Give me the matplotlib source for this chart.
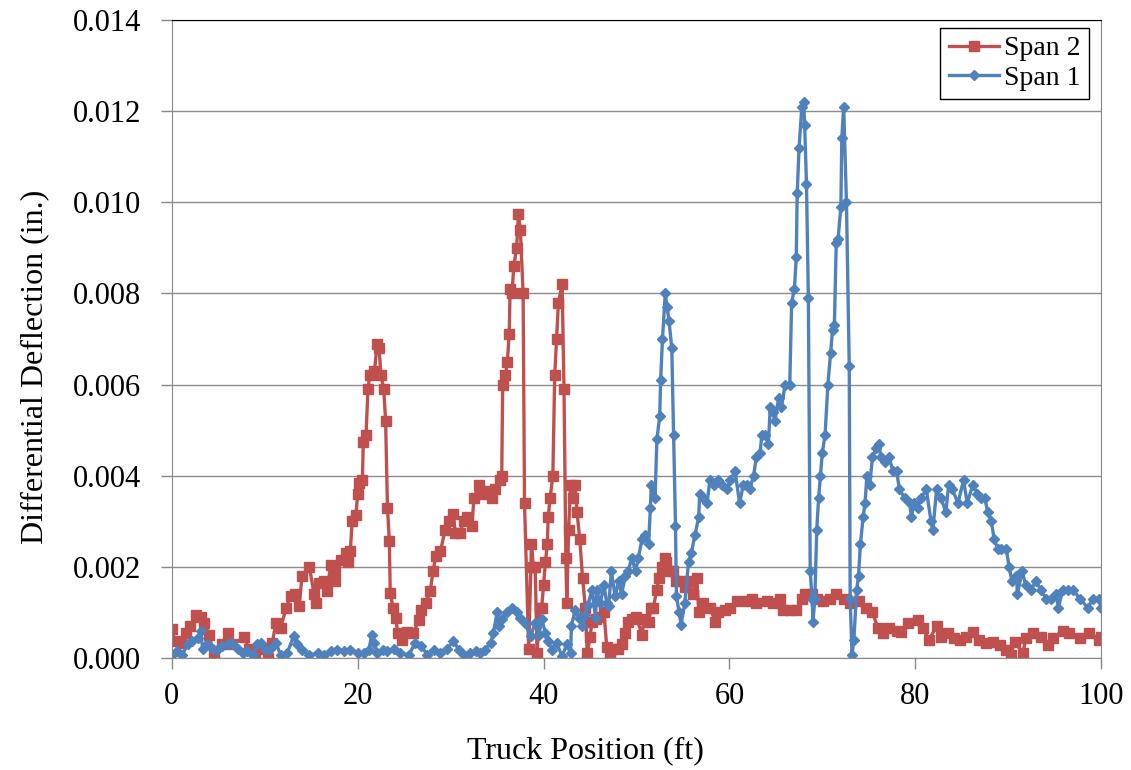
import matplotlib.pyplot as plt

# ---------------------------------------------------------
# Data
# ---------------------------------------------------------
span2_x = [0, 0.3, 1.0, 1.5, 2.0, 2.6, 3.1, 3.5, 4.0, 4.5, 5.4, 6.0, 6.5, 7.8, 8.3, 8.9, 9.6,
           10.3, 10.8, 11.2, 11.7, 12.3, 12.8, 13.2, 13.7, 14.0, 14.8, 15.3, 15.5, 15.8, 16.4,
           16.7, 17.1, 17.5, 17.6, 18.2, 18.7, 18.9, 19.2, 19.4, 19.8, 20.0, 20.1, 20.5, 20.6,
           20.9, 21.1, 21.3, 21.8, 22.1, 22.3, 22.5, 22.8, 23.0, 23.2, 23.4, 23.5, 23.8, 24.1,
           24.3, 24.8, 25.3, 26.0, 26.6, 26.8, 27.3, 27.8, 28.1, 28.4, 28.9, 29.4, 29.8, 30.3,
           30.5, 31.0, 31.4, 31.8, 32.3, 32.5, 33.0, 33.4, 33.9, 34.4, 34.8, 35.3, 35.5, 35.6,
           35.9, 36.1, 36.3, 36.4, 36.6, 36.8, 37.1, 37.3, 37.5, 37.8, 37.95, 38.4, 38.7, 38.9,
           39.1, 39.3, 39.6, 39.8, 40.0, 40.2, 40.4, 40.5, 40.7, 41.0, 41.2, 41.4, 41.6, 42.0,
           42.2, 42.4, 42.5, 42.7, 42.9, 43.2, 43.4, 43.6, 43.9, 44.2, 44.5, 44.7, 45.0, 45.2,
           45.6, 46.1, 46.5, 46.8, 47.2, 47.5, 48.0, 48.4, 48.8, 49.1, 49.5, 50.0, 50.6, 50.8,
           51.3, 51.6, 51.8, 52.2, 52.4, 52.7, 53.1, 53.2, 53.6, 53.9, 54.3, 54.7, 55.2, 55.6,
           56.1, 56.5, 56.7, 57.2, 57.9, 58.5, 58.8, 59.5, 60.1, 60.8, 61.9, 62.4, 62.9, 64.0,
           64.7, 65.4, 65.8, 66.5, 67.2, 67.8, 68.1, 68.9, 69.4, 70.1, 70.8, 71.5, 72.3, 73.0,
           73.9, 74.7, 75.4, 76.0, 76.5, 77.2, 78.0, 78.5, 79.2, 80.3, 80.8, 81.5, 82.3, 82.8,
           83.5, 84.2, 84.8, 85.5, 86.2, 86.9, 87.6, 88.4, 89.1, 89.8, 90.3, 90.7, 91.6, 91.9,
           92.7, 93.5, 94.3, 94.8, 95.9, 96.6, 97.7, 98.7, 99.8, 100.0]
span2_y = [0.00064, 0.00037, 0.00033, 0.00055, 0.0007, 0.00095, 0.0009, 0.00077, 0.0005, 0.0001,
           0.0003, 0.00055, 0.0003, 0.00045, 0.0002, 0.00005, 0.0002, 0.0, 0.00033, 0.00077,
           0.00066, 0.0011, 0.00135, 0.0014, 0.00113, 0.0018, 0.002, 0.0014, 0.0012, 0.00165,
           0.0017, 0.00146, 0.00205, 0.0017, 0.0019, 0.00216, 0.0023, 0.0021, 0.00234, 0.003,
           0.00314, 0.0036, 0.00384, 0.0039, 0.00475, 0.0049, 0.0059, 0.0062, 0.0063, 0.0069,
           0.0068, 0.0062, 0.0059, 0.0052, 0.0033, 0.00256, 0.00143, 0.0011, 0.00088, 0.00055,
           0.0004, 0.00058, 0.00055, 0.00084, 0.00106, 0.0012, 0.00146, 0.0019, 0.00223, 0.00234,
           0.0028, 0.003, 0.00315, 0.00274, 0.00274, 0.003, 0.0031, 0.0029, 0.0035, 0.0038,
           0.0036, 0.00366, 0.0035, 0.0037, 0.0039, 0.004, 0.006, 0.0062, 0.0065, 0.0071,
           0.0081, 0.008, 0.0086, 0.009, 0.00975, 0.0094, 0.008, 0.0034, 0.0002, 0.0025,
           0.002, 0.002, 0.0001, 0.0011, 0.0011, 0.0016, 0.0021, 0.0025, 0.0031, 0.0035,
           0.004, 0.0062, 0.007, 0.0078, 0.0082, 0.0059, 0.0022, 0.0012, 0.0028, 0.0038,
           0.0035, 0.0038, 0.0032, 0.0026, 0.00175, 0.0011, 0.0001, 0.00045, 0.0008, 0.00085,
           0.0009, 0.001, 0.00025, 0.00005, 0.0002, 0.0002, 0.0003, 0.00055, 0.0008, 0.00085,
           0.0009, 0.0005, 0.00085, 0.0008, 0.0011, 0.0011, 0.0015, 0.00175, 0.002, 0.0022,
           0.0021, 0.0019, 0.0019, 0.0017, 0.0017, 0.00155, 0.0017, 0.0014, 0.00175, 0.001,
           0.0012, 0.0011, 0.0008, 0.001, 0.00105, 0.0011, 0.00126, 0.00126, 0.0013, 0.0012,
           0.00126, 0.0012, 0.0013, 0.00105, 0.00105, 0.00105, 0.0013, 0.0014, 0.0014, 0.0013,
           0.00126, 0.0013, 0.0014, 0.0013, 0.0012, 0.00126, 0.0011, 0.001, 0.00065, 0.00054,
           0.00065, 0.0006, 0.00058, 0.00076, 0.00083, 0.00065, 0.0004, 0.0007, 0.00047, 0.00054,
           0.00043, 0.0004, 0.00047, 0.00058, 0.0004, 0.00032, 0.00036, 0.00029, 0.00018, 0.00007,
           0.00036, 0.0001, 0.00043, 0.00054, 0.00047, 0.00029, 0.00043, 0.0006, 0.00054, 0.00043,
           0.00054, 0.0004, 0.00045]

span1_x = [0.0, 0.6, 1.1, 1.7, 2.2, 2.8, 3.1, 3.3, 3.8, 4.4, 4.9, 5.4, 6.0, 6.5, 7.1, 7.6, 8.1,
           8.7, 9.2, 9.6, 10.1, 10.6, 11.2, 11.7, 12.4, 13.1, 13.5, 14.0, 14.8, 15.7, 16.4, 17.1,
           17.8, 18.5, 19.2, 20.0, 20.7, 21.2, 21.5, 21.8, 22.1, 22.7, 23.2, 23.9, 24.6, 25.5,
           26.2, 26.8, 27.5, 28.2, 28.9, 29.6, 30.3, 30.9, 31.4, 32.1, 32.7, 33.2, 33.7, 34.3,
           34.6, 35.0, 35.2, 35.5, 36.1, 36.6, 37.1, 37.5, 38.0, 38.6, 39.1, 39.5, 39.8, 40.2,
           40.5, 40.9, 41.4, 42.0, 42.5, 42.9, 43.0, 43.4, 43.8, 44.1, 44.5, 44.8, 45.2, 45.6,
           45.7, 46.1, 46.5, 46.8, 47.0, 47.3, 47.7, 48.1, 48.4, 48.8, 49.1, 49.5, 49.9, 50.2,
           50.6, 50.9, 51.3, 51.5, 51.6, 52.0, 52.2, 52.5, 52.6, 52.8, 53.1, 53.3, 53.5, 53.8,
           54.0, 54.2, 54.3, 54.6, 54.8, 55.2, 55.6, 55.9, 56.3, 56.7, 56.8, 57.2, 57.6, 57.9,
           58.3, 58.8, 59.2, 59.7, 60.1, 60.6, 61.1, 61.5, 61.9, 62.2, 62.6, 62.9, 63.3, 63.5,
           63.8, 64.2, 64.4, 64.7, 64.9, 65.3, 65.6, 66.0, 66.5, 66.7, 67.0, 67.2, 67.3, 67.5,
           67.8, 68.0, 68.1, 68.3, 68.5, 68.7, 68.9, 69.0, 69.2, 69.4, 69.6, 69.8, 70.0, 70.3,
           70.6, 70.9, 71.1, 71.3, 71.5, 71.7, 72.0, 72.1, 72.3, 72.6, 72.9, 73.0, 73.2, 73.4,
           73.7, 73.9, 74.1, 74.4, 74.6, 74.8, 75.1, 75.4, 75.8, 76.1, 76.3, 76.7, 77.2, 77.6,
           78.0, 78.3, 78.9, 79.4, 79.6, 79.9, 80.3, 80.6, 81.2, 81.7, 81.9, 82.3, 82.8, 83.3,
           83.6, 84.0, 84.6, 85.2, 85.6, 86.2, 86.7, 87.1, 87.5, 87.8, 88.2, 88.5, 88.9, 89.2,
           89.8, 90.1, 90.4, 90.9, 91.0, 91.5, 91.9, 92.5, 93.0, 93.5, 94.1, 94.6, 95.2, 95.4,
           95.9, 96.4, 97.0, 97.7, 98.6, 99.1, 99.8, 100.0]
span1_y = [0.00007, 0.00015, 0.00007, 0.0003, 0.00037, 0.00044, 0.0006, 0.0002, 0.0003, 0.0002,
           0.00018, 0.00026, 0.0003, 0.00033, 0.0002, 0.0001, 0.00015, 0.00007, 0.0003, 0.00033,
           0.00018, 0.0002, 0.00033, 0.00007, 0.0001, 0.00048, 0.0003, 0.00018, 0.00007, 0.0001,
           0.00007, 0.00015, 0.00018, 0.00015, 0.00018, 0.0001, 0.0001, 0.00018, 0.0005, 0.00033,
           0.0001, 0.00018, 0.00015, 0.0002, 0.0001, 0.00007, 0.00033, 0.00026, 0.00007, 0.00018,
           0.0001, 0.0002, 0.00037, 0.00018, 0.00007, 0.0001, 0.00015, 0.0001, 0.00018, 0.00033,
           0.00055, 0.001, 0.0007, 0.00085, 0.001, 0.0011, 0.001, 0.00088, 0.00077, 0.00048,
           0.00077, 0.0005, 0.00085, 0.00055, 0.00037, 0.00018, 0.00033, 0.00004, 0.0003, 0.0001,
           0.0007, 0.00106, 0.00088, 0.0007, 0.00095, 0.00117, 0.0015, 0.00088, 0.0015, 0.0012,
           0.0016, 0.0012, 0.00113, 0.0019, 0.00135, 0.0017, 0.0014, 0.0018, 0.0019, 0.0022,
           0.0019, 0.0022, 0.0026, 0.0027, 0.0025, 0.0033, 0.0038, 0.0035, 0.0048, 0.0053,
           0.0061, 0.007, 0.008, 0.0077, 0.0074, 0.0068, 0.0049, 0.0029, 0.00135, 0.001,
           0.00073, 0.0012, 0.0021, 0.0023, 0.0027, 0.0031, 0.0036, 0.0035, 0.0034, 0.0039,
           0.0038, 0.0039, 0.0038, 0.0037, 0.0039, 0.0041, 0.0034, 0.0038, 0.0038, 0.0037,
           0.004, 0.0044, 0.0045, 0.0049, 0.0049, 0.0047, 0.0055, 0.0054, 0.0052, 0.0057,
           0.0055, 0.006, 0.006, 0.0078, 0.0081, 0.0088, 0.0102, 0.0112, 0.0121, 0.0122,
           0.0117, 0.0104, 0.0079, 0.0019, 0.0013, 0.0008, 0.0013, 0.0028, 0.0035, 0.004,
           0.0045, 0.0049, 0.006, 0.0067, 0.0072, 0.0073, 0.0091, 0.0092, 0.0099, 0.0114,
           0.0121, 0.0100, 0.0064, 0.0013, 0.00007, 0.0004, 0.0015, 0.0018, 0.0025, 0.0031,
           0.0034, 0.004, 0.0038, 0.0044, 0.0046, 0.0047, 0.0044, 0.0043, 0.0044, 0.0041,
           0.0041, 0.0037, 0.0035, 0.0034, 0.0031, 0.0034, 0.0033, 0.0035, 0.0037, 0.003,
           0.0028, 0.0037, 0.0035, 0.0032, 0.0038, 0.0037, 0.0034, 0.0039, 0.0034, 0.0038,
           0.0036, 0.0035, 0.0035, 0.0032, 0.003, 0.0026, 0.0024, 0.0024, 0.0024, 0.002,
           0.0017, 0.0018, 0.0014, 0.0019, 0.0016, 0.0015, 0.0017, 0.0015, 0.0013, 0.0013,
           0.0014, 0.0011, 0.0015, 0.0015, 0.0015, 0.0013, 0.0011, 0.0013, 0.0013, 0.0011]

x_ticks = [0, 20, 40, 60, 80, 100]
y_ticks = [0.000, 0.002, 0.004, 0.006, 0.008, 0.010, 0.012, 0.014]

plt.rcParams['font.family'] = ['Liberation Serif', 'DejaVu Serif']

fig = plt.figure(figsize=(11.31, 7.70), dpi=100)
ax = fig.add_axes([0.152, 0.1455, 0.8215, 0.8285])

red = '#C0504D'
blue = '#4F81BD'
ax.plot(span2_x, span2_y, color=red, lw=2.4, marker='s', ms=7, mec=red, label='Span 2')
ax.plot(span1_x, span1_y, color=blue, lw=2.4, marker='D', ms=5, mec=blue, label='Span 1')

ax.set_xlim(0, 100)
ax.set_ylim(0, 0.014)
ax.set_xticks(x_ticks)
ax.set_yticks(y_ticks)
ax.set_yticklabels([f'{v:.3f}' for v in y_ticks])
ax.tick_params(axis='both', labelsize=22, direction='out', length=8, color='#888888', width=1)
ax.tick_params(axis='x', pad=9)
ax.tick_params(axis='y', pad=14)

ax.yaxis.grid(True, color='#8c8c8c', lw=1)
ax.set_axisbelow(True)
for side in ['left', 'bottom', 'right']:
    ax.spines[side].set_color('#888888')
ax.spines['top'].set_color('black')

ax.set_xlabel('Truck Position (ft)', fontsize=23)
ax.set_ylabel('Differential Deflection (in.)', fontsize=23)
ax.xaxis.set_label_coords(0.445, -0.122)
ax.yaxis.set_label_coords(-0.132, 0.456)

leg = ax.legend(loc='upper right', bbox_to_anchor=(0.987, 0.988), fontsize=20, frameon=True,
                fancybox=False, edgecolor='black', framealpha=1, handlelength=1.8,
                handletextpad=0.2, borderpad=0.3, labelspacing=0.15, borderaxespad=0)
leg.get_frame().set_linewidth(1.0)

fig.savefig('out.png', dpi=100)
